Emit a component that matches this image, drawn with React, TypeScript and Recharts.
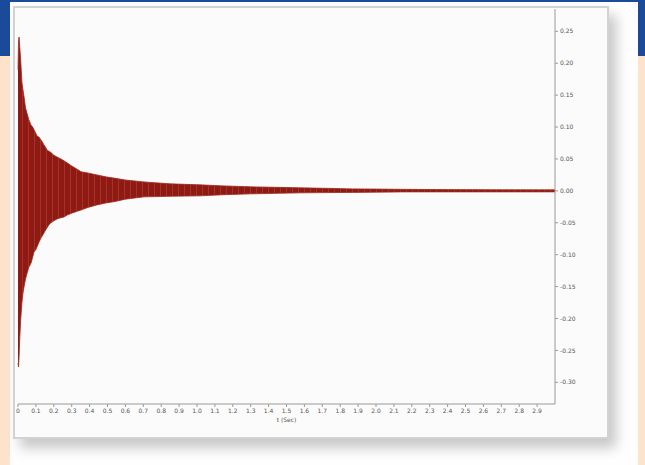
import React from "react";
import { ComposedChart, Area, XAxis, YAxis } from "recharts";

// time (s) of envelope samples
const times = [0, 0.003, 0.006, 0.01, 0.015, 0.022, 0.028, 0.034, 0.042, 0.05, 0.06, 0.073, 0.082, 0.089, 0.1, 0.106, 0.118, 0.128, 0.137, 0.145, 0.155, 0.162, 0.173, 0.184, 0.2, 0.218, 0.24, 0.257, 0.274, 0.3, 0.33, 0.352, 0.39, 0.441, 0.49, 0.536, 0.6, 0.704, 0.85, 1.017, 1.15, 1.3, 1.45, 1.58, 1.72, 1.87, 2.0, 2.15, 2.4, 2.7, 3.0];
// upper envelope of the waveform
const upper = [0.19, 0.235, 0.241, 0.225, 0.205, 0.17, 0.158, 0.147, 0.13, 0.122, 0.112, 0.103, 0.1, 0.096, 0.09, 0.086, 0.084, 0.08, 0.076, 0.072, 0.068, 0.064, 0.062, 0.06, 0.056, 0.053, 0.05, 0.047, 0.044, 0.039, 0.034, 0.03, 0.028, 0.025, 0.022, 0.02, 0.017, 0.014, 0.011, 0.0094, 0.0078, 0.0063, 0.0055, 0.0047, 0.004, 0.0031, 0.0028, 0.0024, 0.002, 0.0017, 0.0016];
// lower envelope of the waveform
const lower = [-0.27, -0.276, -0.26, -0.23, -0.202, -0.175, -0.16, -0.15, -0.138, -0.13, -0.12, -0.113, -0.104, -0.096, -0.092, -0.088, -0.08, -0.074, -0.07, -0.066, -0.061, -0.058, -0.053, -0.05, -0.047, -0.044, -0.042, -0.041, -0.038, -0.035, -0.032, -0.03, -0.026, -0.022, -0.019, -0.017, -0.013, -0.0094, -0.0085, -0.0078, -0.006, -0.0047, -0.0038, -0.0031, -0.0027, -0.0024, -0.002, -0.0016, -0.0016, -0.0016, -0.0016];

const xTicks = [0, 0.1, 0.2, 0.3, 0.4, 0.5, 0.6, 0.7, 0.8, 0.9, 1.0, 1.1, 1.2, 1.3, 1.4, 1.5, 1.6, 1.7, 1.8, 1.9, 2.0, 2.1, 2.2, 2.3, 2.4, 2.5, 2.6, 2.7, 2.8, 2.9];
const yTicks = [0.25, 0.2, 0.15, 0.1, 0.05, 0, -0.05, -0.1, -0.15, -0.2, -0.25, -0.3];
const xTitle = "t (Sec)";

const data = times.map((t, i) => ({ t, range: [lower[i], upper[i]] }));

export default function App() {
  return (
    <div style={{ position: "absolute", left: 0, top: 0, width: 645, height: 465, background: "#fde3cc", overflow: "hidden" }}>
      <div style={{ position: "absolute", left: 0, top: 0, width: 645, height: 56, background: "#1c4a9b" }} />
      <div style={{ position: "absolute", left: 10, top: 2, width: 628, height: 470, background: "#fefefe" }} />
      <div
        style={{
          position: "absolute",
          left: 13,
          top: 6,
          width: 592,
          height: 429,
          border: "2px solid #d2d2d2",
          background: "#fbfbfb",
          boxShadow: "7px 9px 12px rgba(0,0,0,0.22)",
        }}
      />
      <div style={{ position: "absolute", left: 0, top: 0 }}>
        <ComposedChart width={645} height={465} data={data} margin={{ top: 9, right: 50, bottom: 31, left: 18 }}>
          <defs>
            <pattern id="streaks" width="6" height="10" patternUnits="userSpaceOnUse">
              <rect width="6" height="10" fill="#8e1a15" />
              <rect x="4" width="1" height="10" fill="#a8321f" />
            </pattern>
          </defs>
          <XAxis
            dataKey="t"
            type="number"
            domain={[0, 3]}
            ticks={xTicks}
            interval={0}
            tickFormatter={(v: number) => (v === 0 ? "0" : v.toFixed(1))}
            tick={{ fontSize: 6, fill: "#555", fontFamily: "DejaVu Sans" }}
            tickSize={3}
            tickMargin={2}
            stroke="#9a9a9a"
            height={30}
            label={{ value: xTitle, position: "insideBottom", offset: 12, fontSize: 6, fill: "#555", fontFamily: "DejaVu Sans" }}
          />
          <YAxis
            orientation="right"
            type="number"
            domain={[-0.334, 0.285]}
            ticks={yTicks}
            interval={0}
            allowDataOverflow
            tickFormatter={(v: number) => v.toFixed(2)}
            tick={{ fontSize: 6, fill: "#555", fontFamily: "DejaVu Sans" }}
            tickSize={3}
            tickMargin={2}
            stroke="#9a9a9a"
            width={40}
          />
          <Area
            dataKey="range"
            type="linear"
            stroke="#9c2a1e"
            strokeWidth={0.8}
            fill="url(#streaks)"
            fillOpacity={1}
            isAnimationActive={false}
            dot={false}
            activeDot={false}
          />
        </ComposedChart>
      </div>
    </div>
  );
}
